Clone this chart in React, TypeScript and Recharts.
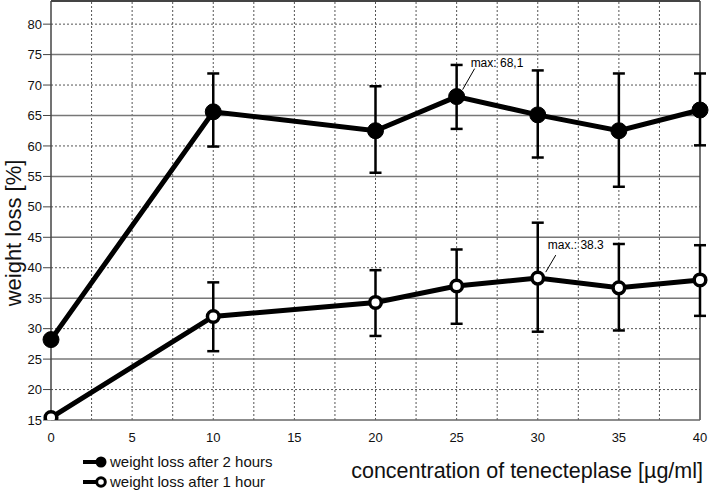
import React from "react";
import {
  ErrorBar,
  LabelList,
  Line,
  LineChart,
  ReferenceLine,
  XAxis,
  YAxis,
} from "recharts";

const concentrations = [0, 10, 20, 25, 30, 35, 40];
const after2h = [28.2, 65.6, 62.5, 68.1, 65.1, 62.5, 65.9];
const after2hLow = [28.2, 59.9, 55.6, 62.8, 58.1, 53.3, 60.1];
const after2hHigh = [28.2, 71.9, 69.8, 73.3, 72.4, 71.9, 71.9];
const after1h = [15.4, 32.0, 34.3, 37.0, 38.3, 36.7, 38.0];
const after1hLow = [15.4, 26.3, 28.8, 30.8, 29.5, 29.7, 32.1];
const after1hHigh = [15.4, 37.6, 39.6, 43.0, 47.4, 43.9, 43.7];

const xTicks = [0, 5, 10, 15, 20, 25, 30, 35, 40];
const yTicks = [15, 20, 25, 30, 35, 40, 45, 50, 55, 60, 65, 70, 75, 80];
const xDotted = [2.5, 5, 7.5, 10, 12.5, 15, 17.5, 20, 22.5, 25, 27.5, 30, 32.5, 35, 37.5];
const ySolid = [25, 35, 45, 55, 65, 75];
const yDotted = [20, 30, 40, 50, 60, 70, 80];

const max2hLabel = "max: 68,1";
const max1hLabel = "max.: 38.3";

const data = concentrations.map((c, i) => ({
  c,
  h2: after2h[i],
  h2Err: [after2h[i] - after2hLow[i], after2hHigh[i] - after2h[i]],
  h1: after1h[i],
  h1Err: [after1h[i] - after1hLow[i], after1hHigh[i] - after1h[i]],
}));

const max2hIdx = after2h.indexOf(Math.max(...after2h));
const max1hIdx = after1h.indexOf(Math.max(...after1h));

const FONT = "'Liberation Sans', Arial, Helvetica, sans-serif";

function maxCallout(idx: number, text: string, d: { lx: number; ly: number; ex: number; ey: number; tx: number; ty: number }) {
  return (props: any) => {
    if (props.index !== idx) return null;
    const x = Number(props.x);
    const y = Number(props.y);
    return (
      <g>
        <line x1={x + d.lx} y1={y + d.ly} x2={x + d.ex} y2={y + d.ey} stroke="#000" strokeWidth={1} />
        <text x={x + d.tx} y={y + d.ty} fontSize={12} fill="#000" fontFamily={FONT}>
          {text}
        </text>
      </g>
    );
  };
}

export default function App() {
  return (
    <div style={{ position: "absolute", left: 0, top: 0, width: 709, height: 493, background: "#fff", fontFamily: FONT }}>
      <LineChart width={709} height={493} data={data} margin={{ top: 1, right: 9, left: 0, bottom: 0 }}>
        <XAxis
          dataKey="c"
          type="number"
          domain={[0, 40]}
          ticks={xTicks}
          tickLine={false}
          tickSize={5}
          tickMargin={8}
          height={73}
          axisLine={{ stroke: "#666", strokeWidth: 1.5 }}
          tick={{ fontSize: 13, fill: "#111", fontFamily: FONT }}
          label={{
            content: (p: any) => {
              const vb = p.viewBox || {};
              return (
                <text x={vb.x + vb.width + 3} y={vb.y + 58} textAnchor="end" fontSize={21.5} fill="#111" fontFamily={FONT}>
                  concentration of tenecteplase [µg/ml]
                </text>
              );
            },
          }}
        />
        <YAxis
          type="number"
          domain={[15, 83.8]}
          ticks={yTicks}
          width={51}
          tickSize={8}
          tickMargin={1}
          allowDataOverflow
          axisLine={{ stroke: "#444", strokeWidth: 1.5 }}
          tickLine={{ stroke: "#444" }}
          tick={{ fontSize: 13, fill: "#111", fontFamily: FONT }}
          label={{
            content: () => (
              <text
                x={0}
                y={0}
                transform="translate(21,233) rotate(-90)"
                textAnchor="middle"
                fontSize={22}
                fill="#111"
                fontFamily={FONT}
              >
                weight loss [%]
              </text>
            ),
          }}
        />
        {xDotted.map((v) => (
          <ReferenceLine key={"vx" + v} x={v} stroke="#555" strokeDasharray="2 2" strokeWidth={1} />
        ))}
        {yDotted.map((v) => (
          <ReferenceLine key={"dy" + v} y={v} stroke="#555" strokeDasharray="2 2" strokeWidth={1} />
        ))}
        {ySolid.map((v) => (
          <ReferenceLine key={"sy" + v} y={v} stroke="#777" strokeWidth={1.5} />
        ))}
        <ReferenceLine y={83.8} stroke="#444" strokeWidth={2} />
        <ReferenceLine x={40} stroke="#444" strokeWidth={1.5} />
        <Line
          dataKey="h2"
          stroke="#000"
          strokeWidth={5}
          isAnimationActive={false}
          activeDot={false}
          dot={{ r: 8, fill: "#000", stroke: "#000", strokeWidth: 1 }}
        >
          <ErrorBar dataKey="h2Err" width={6} stroke="#000" strokeWidth={2.5} direction="y" />
          <LabelList
            dataKey="h2"
            content={maxCallout(max2hIdx, max2hLabel, { lx: 6, ly: -7, ex: 18, ey: -28, tx: 14, ty: -30 })}
          />
        </Line>
        <Line
          dataKey="h1"
          stroke="#000"
          strokeWidth={5}
          isAnimationActive={false}
          activeDot={false}
          dot={{ r: 5.8, fill: "#fff", stroke: "#000", strokeWidth: 3.5 }}
        >
          <ErrorBar dataKey="h1Err" width={6} stroke="#000" strokeWidth={2.5} direction="y" />
          <LabelList
            dataKey="h1"
            content={maxCallout(max1hIdx, max1hLabel, { lx: 8, ly: -6, ex: 18, ey: -23, tx: 10, ty: -29 })}
          />
        </Line>
      </LineChart>
      <div style={{ position: "absolute", left: 82, top: 452, width: 220, fontSize: 15, color: "#111", lineHeight: "20px" }}>
        {[
          { name: "weight loss after 2 hours", filled: true },
          { name: "weight loss after 1 hour", filled: false },
        ].map((item) => (
          <div key={item.name} style={{ display: "flex", alignItems: "center", height: 20 }}>
            <svg width={26} height={20} style={{ marginRight: 2 }}>
              <line x1={1} y1={10} x2={16} y2={10} stroke="#000" strokeWidth={4} />
              {item.filled ? (
                <circle cx={19} cy={10} r={5.5} fill="#000" />
              ) : (
                <circle cx={19} cy={10} r={4.3} fill="#fff" stroke="#000" strokeWidth={3} />
              )}
            </svg>
            <span>{item.name}</span>
          </div>
        ))}
      </div>
    </div>
  );
}
